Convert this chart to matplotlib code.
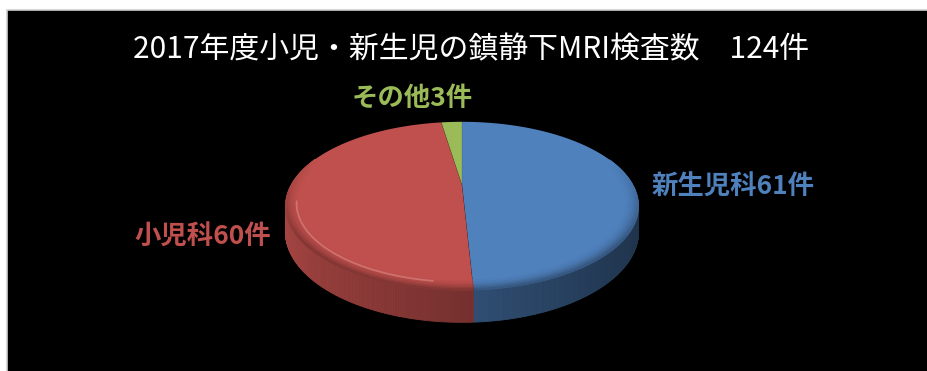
import numpy as np
import matplotlib.pyplot as plt
from matplotlib.patches import Rectangle
from matplotlib.colors import to_rgb

# データ
title = '2017年度小児・新生児の鎮静下MRI検査数\u3000124件'
categories = ['新生児科', '小児科', 'その他']
counts = [61, 60, 3]
colors = ['#4F81BD', '#C0504D', '#9BBB59']
label_pos = [(733, 187), (203, 237), (412, 98)]

plt.rcParams['font.family'] = ['Noto Sans CJK JP', 'DejaVu Sans']

W, H = 927, 371
fig = plt.figure(figsize=(W / 100, H / 100), dpi=100)
fig.patch.set_facecolor('white')
ax = fig.add_axes([0, 0, 1, 1])
ax.set_xlim(0, W)
ax.set_ylim(H, 0)
ax.axis('off')
ax.add_patch(Rectangle((7.5, 9.5), W, H, facecolor='black',
                       edgecolor='#cfcfcf', lw=1.2, zorder=0))

# 透視投影の3D円グラフ
X0, Y0 = 462, 185
A, B, K, D = 171, 79, 0.25, 24


def rim(theta, r=1.0, drop=0.0):
    t = np.radians(theta)
    u = r * np.sin(t)
    v = -r * np.cos(t)
    w = 1 - K * v
    return X0 + A * u / w, Y0 + (B * v + drop) / w


total = sum(counts)
edges = np.concatenate([[0], np.cumsum(counts)]) / total * 360
t_lo = np.degrees(np.arccos(-K))
t_hi = 360 - t_lo

# 側面
for i, c in enumerate(colors):
    base = np.array(to_rgb(c))
    lo, hi = max(edges[i], t_lo), min(edges[i + 1], t_hi)
    if lo >= hi:
        continue
    ts = np.linspace(lo, hi, max(2, int((hi - lo) * 2)))
    for a, b in zip(ts[:-1], ts[1:]):
        xa, ya = rim(a)
        xb, yb = rim(b)
        xa2, ya2 = rim(a, drop=D)
        xb2, yb2 = rim(b, drop=D)
        m = np.radians((a + b) / 2)
        f = 0.62 - 0.24 * np.sin(m)
        col = np.clip(base * f, 0, 1)
        ax.fill([xa, xb, xb2, xa2], [ya, yb, yb2, ya2], color=col,
                lw=0.6, ec=col, zorder=2)

# 上面
for i, c in enumerate(colors):
    ts = np.linspace(edges[i], edges[i + 1], max(2, int(counts[i] * 6)))
    xs, ys = rim(ts)
    ax.fill(np.r_[X0, xs], np.r_[Y0, ys], color=c, lw=0, zorder=3)

# 縁のぼかし
rings = np.linspace(0.92, 1.0, 9)
for i, c in enumerate(colors):
    base = np.array(to_rgb(c))
    ts = np.linspace(edges[i], edges[i + 1], max(2, int(counts[i] * 6)))
    wgt = np.clip(-np.cos(np.radians(ts)) + 0.35, 0, 1)
    for j, (r0, r1) in enumerate(zip(rings[:-1], rings[1:])):
        s = (j + 1) / (len(rings) - 1)
        for a, b, g in zip(ts[:-1], ts[1:], wgt[:-1]):
            if g <= 0:
                continue
            dark = 1 - 0.32 * s ** 2 * g
            col = np.clip(base * dark, 0, 1)
            xa, ya = rim(a, r0)
            xb, yb = rim(b, r0)
            xb1, yb1 = rim(b, r1)
            xa1, ya1 = rim(a, r1)
            ax.fill([xa, xb, xb1, xa1], [ya, yb, yb1, ya1], color=col,
                    lw=0.5, ec=col, zorder=4)

# 赤い縁のハイライト
ts = np.linspace(max(edges[1], 188), 258, 80)
hx, hy = rim(ts, 0.94)
ax.plot(hx, hy, color='#f0a8a5', lw=1.3, alpha=0.4, zorder=5,
        solid_capstyle='round')

# 境界線
for e in edges[:-1]:
    ex, ey = rim(e)
    ax.plot([X0, ex], [Y0, ey], color='black', lw=0.3, alpha=0.3, zorder=6)

# ラベル
for name, n, c, (lx, ly) in zip(categories, counts, colors, label_pos):
    ax.text(lx, ly, f'{name}{n}件', color=c, fontsize=19, fontweight='bold',
            ha='center', va='center', zorder=7)

ax.text(471, 50, title, color='white', fontsize=21.5, ha='center',
        va='center', zorder=7)

fig.savefig('out.png', dpi=100, facecolor=fig.get_facecolor())
